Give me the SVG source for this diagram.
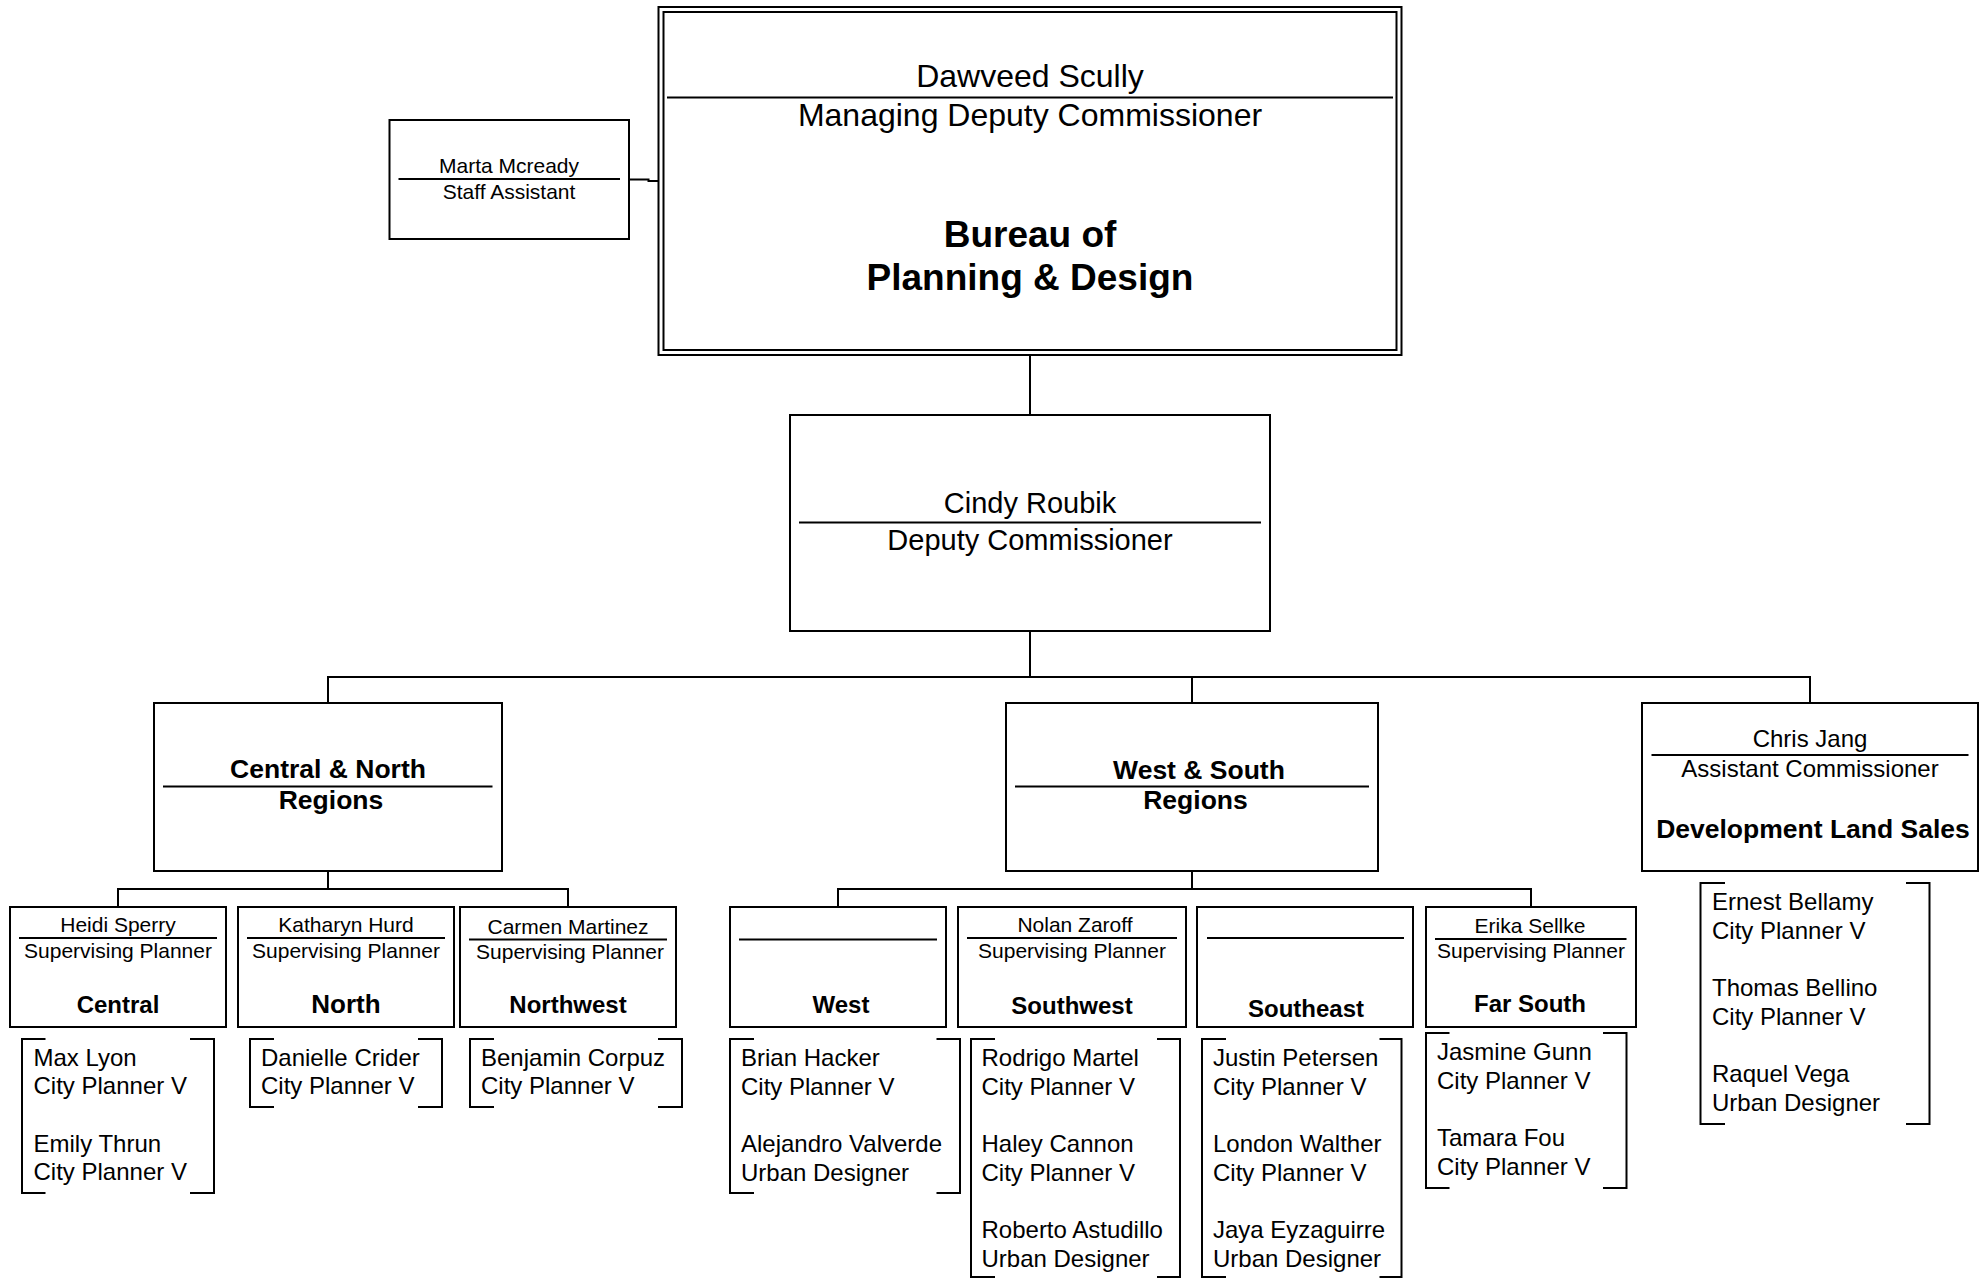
<svg xmlns="http://www.w3.org/2000/svg" width="1984" height="1279" viewBox="0 0 1984 1279">
<style>
.box{fill:#fff;stroke:#000;stroke-width:2}
.rule{stroke:#000;stroke-width:2;fill:none}
.conn{fill:none;stroke:#000;stroke-width:2}
.br{fill:none;stroke:#000;stroke-width:2}
text{font-family:"Liberation Sans",Arial,sans-serif;fill:#000}
.c{text-anchor:middle}
.b{font-weight:bold}
.s21{font-size:21px}
.s24{font-size:24px}
.s29{font-size:29px}
.s32{font-size:32px}
</style>
<rect width="1984" height="1279" fill="#fff"/>
<g id="connectors">
<path class="conn" d="M629,179.5 H648.5 V181 H658.5"/>
<path class="conn" d="M1030,355 V415"/>
<path class="conn" d="M1030,631 V677"/>
<path class="conn" d="M328,703 V677 H1810 V703"/>
<path class="conn" d="M1192,677 V703"/>
<path class="conn" d="M328,871 V889"/>
<path class="conn" d="M118,907 V889 H568 V907"/>
<path class="conn" d="M1192,871 V889"/>
<path class="conn" d="M838,907 V889 H1531 V907"/>
</g>
<g id="bureau">
<rect class="box" x="658.5" y="7" width="743" height="348"/>
<rect class="box" x="663.5" y="12" width="733" height="338"/>
<text class="c s32" x="1030" y="87">Dawveed Scully</text>
<line class="rule" x1="667" y1="97.5" x2="1393" y2="97.5"/>
<text class="c s32" x="1030" y="126">Managing Deputy Commissioner</text>
<text class="c b" style="font-size:37px" x="1030" y="247">Bureau of</text>
<text class="c b" style="font-size:37px" x="1030" y="290">Planning &amp; Design</text>
</g>
<g id="marta">
<rect class="box" x="389.5" y="120" width="239.5" height="119"/>
<text class="c s21" x="509" y="172.5">Marta Mcready</text>
<line class="rule" x1="398.5" y1="179" x2="620" y2="179"/>
<text class="c s21" x="509" y="198.5">Staff Assistant</text>
</g>
<g id="cindy">
<rect class="box" x="790" y="415" width="480" height="216"/>
<text class="c s29" x="1030" y="513">Cindy Roubik</text>
<line class="rule" x1="799" y1="522.5" x2="1261" y2="522.5"/>
<text class="c s29" x="1030" y="550">Deputy Commissioner</text>
</g>
<g id="central-north">
<rect class="box" x="154" y="703" width="348" height="168"/>
<text class="c b" style="font-size:26.5px" x="328" y="778">Central &amp; North</text>
<line class="rule" x1="163" y1="786.5" x2="492.5" y2="786.5"/>
<text class="c b" style="font-size:26.5px" x="331" y="809">Regions</text>
</g>
<g id="west-south">
<rect class="box" x="1006" y="703" width="372" height="168"/>
<text class="c b" style="font-size:26.5px" x="1199" y="779">West &amp; South</text>
<line class="rule" x1="1015" y1="786.5" x2="1369" y2="786.5"/>
<text class="c b" style="font-size:26.5px" x="1195.5" y="809">Regions</text>
</g>
<g id="chris">
<rect class="box" x="1642" y="703" width="336" height="168"/>
<text class="c s24" x="1810" y="747">Chris Jang</text>
<line class="rule" x1="1651.5" y1="755" x2="1968.5" y2="755"/>
<text class="c s24" x="1810" y="777">Assistant Commissioner</text>
<text class="c b" style="font-size:26.5px" x="1813" y="838">Development Land Sales</text>
</g>
<g id="central">
<rect class="box" x="10" y="907" width="216" height="120"/>
<text class="c s21" x="118" y="932">Heidi Sperry</text>
<line class="rule" x1="19" y1="938" x2="217" y2="938"/>
<text class="c s21" x="118" y="958">Supervising Planner</text>
<text class="c b s24" x="118" y="1013">Central</text>
</g>
<g id="north">
<rect class="box" x="238" y="907" width="216" height="120"/>
<text class="c s21" x="346" y="932">Katharyn Hurd</text>
<line class="rule" x1="247" y1="938" x2="445" y2="938"/>
<text class="c s21" x="346" y="958">Supervising Planner</text>
<text class="c b" style="font-size:26px" x="346" y="1013">North</text>
</g>
<g id="northwest">
<rect class="box" x="460" y="907" width="216" height="120"/>
<text class="c s21" x="568" y="934">Carmen Martinez</text>
<line class="rule" x1="469" y1="939.5" x2="667" y2="939.5"/>
<text class="c s21" x="570" y="959">Supervising Planner</text>
<text class="c b s24" x="568" y="1013">Northwest</text>
</g>
<g id="west">
<rect class="box" x="730" y="907" width="216" height="120"/>
<line class="rule" x1="739" y1="939.5" x2="937" y2="939.5"/>
<text class="c b s24" x="841" y="1013">West</text>
</g>
<g id="southwest">
<rect class="box" x="958" y="907" width="228" height="120"/>
<text class="c s21" x="1075" y="932">Nolan Zaroff</text>
<line class="rule" x1="967" y1="938" x2="1177" y2="938"/>
<text class="c s21" x="1072" y="958">Supervising Planner</text>
<text class="c b s24" x="1072" y="1014">Southwest</text>
</g>
<g id="southeast">
<rect class="box" x="1197" y="907" width="216" height="120"/>
<line class="rule" x1="1207" y1="938" x2="1404" y2="938"/>
<text class="c b s24" x="1306" y="1017">Southeast</text>
</g>
<g id="farsouth">
<rect class="box" x="1426" y="907" width="210" height="120"/>
<text class="c s21" x="1530" y="933">Erika Sellke</text>
<line class="rule" x1="1435" y1="939" x2="1626.5" y2="939"/>
<text class="c s21" x="1531" y="958">Supervising Planner</text>
<text class="c b s24" x="1530" y="1012">Far South</text>
</g>
<g id="list-central">
<path class="br" d="M45.5,1039 H22 V1193 H45.5"/>
<path class="br" d="M190,1039 H214 V1193 H190"/>
<text class="s24" x="33.5" y="1065.5">Max Lyon</text>
<text class="s24" x="33.5" y="1094.2">City Planner V</text>
<text class="s24" x="33.5" y="1151.6">Emily Thrun</text>
<text class="s24" x="33.5" y="1180.3">City Planner V</text>
</g>
<g id="list-north">
<path class="br" d="M274,1039 H250 V1107 H274"/>
<path class="br" d="M418,1039 H442 V1107 H418"/>
<text class="s24" x="261" y="1065.5">Danielle Crider</text>
<text class="s24" x="261" y="1094.2">City Planner V</text>
</g>
<g id="list-northwest">
<path class="br" d="M494,1039 H470 V1107 H494"/>
<path class="br" d="M658,1039 H682 V1107 H658"/>
<text class="s24" x="481" y="1065.5">Benjamin Corpuz</text>
<text class="s24" x="481" y="1094.2">City Planner V</text>
</g>
<g id="list-west">
<path class="br" d="M754,1039 H730 V1193 H754"/>
<path class="br" d="M936.5,1039 H960 V1193 H936.5"/>
<text class="s24" x="741" y="1066">Brian Hacker</text>
<text class="s24" x="741" y="1094.7">City Planner V</text>
<text class="s24" x="741" y="1152.1">Alejandro Valverde</text>
<text class="s24" x="741" y="1180.8">Urban Designer</text>
</g>
<g id="list-southwest">
<path class="br" d="M995,1039 H971 V1277 H995"/>
<path class="br" d="M1157,1039 H1180 V1277 H1157"/>
<text class="s24" x="981.5" y="1066">Rodrigo Martel</text>
<text class="s24" x="981.5" y="1094.7">City Planner V</text>
<text class="s24" x="981.5" y="1152.1">Haley Cannon</text>
<text class="s24" x="981.5" y="1180.8">City Planner V</text>
<text class="s24" x="981.5" y="1238.2">Roberto Astudillo</text>
<text class="s24" x="981.5" y="1266.9">Urban Designer</text>
</g>
<g id="list-southeast">
<path class="br" d="M1226,1039 H1202 V1277 H1226"/>
<path class="br" d="M1379.5,1039 H1401.5 V1277 H1379.5"/>
<text class="s24" x="1213" y="1066">Justin Petersen</text>
<text class="s24" x="1213" y="1094.7">City Planner V</text>
<text class="s24" x="1213" y="1152.1">London Walther</text>
<text class="s24" x="1213" y="1180.8">City Planner V</text>
<text class="s24" x="1213" y="1238.2">Jaya Eyzaguirre</text>
<text class="s24" x="1213" y="1266.9">Urban Designer</text>
</g>
<g id="list-farsouth">
<path class="br" d="M1449.5,1033 H1426 V1188 H1449.5"/>
<path class="br" d="M1603,1033 H1626.5 V1188 H1603"/>
<text class="s24" x="1437" y="1060">Jasmine Gunn</text>
<text class="s24" x="1437" y="1088.7">City Planner V</text>
<text class="s24" x="1437" y="1146.1">Tamara Fou</text>
<text class="s24" x="1437" y="1174.8">City Planner V</text>
</g>
<g id="list-landsales">
<path class="br" d="M1725,883 H1700.5 V1124 H1725"/>
<path class="br" d="M1906,883 H1929.5 V1124 H1906"/>
<text class="s24" x="1712" y="910">Ernest Bellamy</text>
<text class="s24" x="1712" y="938.7">City Planner V</text>
<text class="s24" x="1712" y="996.1">Thomas Bellino</text>
<text class="s24" x="1712" y="1024.8">City Planner V</text>
<text class="s24" x="1712" y="1082.2">Raquel Vega</text>
<text class="s24" x="1712" y="1110.9">Urban Designer</text>
</g>
</svg>
